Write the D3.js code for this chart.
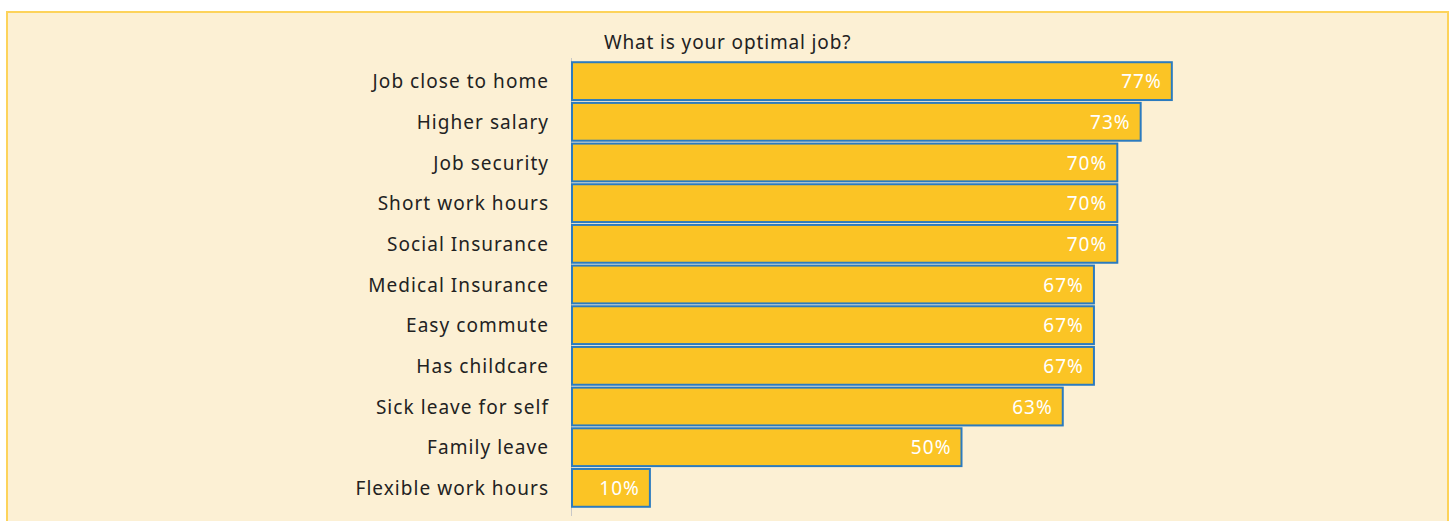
<!DOCTYPE html>
<html><head><meta charset="utf-8">
<script src="https://cdn.jsdelivr.net/npm/d3@7"></script>
<style>body{margin:0;background:#fff;} svg{display:block;}</style>
</head><body>
<svg id="c" width="1450" height="521"></svg>
<script>
const categories = ["Job close to home","Higher salary","Job security","Short work hours","Social Insurance","Medical Insurance","Easy commute","Has childcare","Sick leave for self","Family leave","Flexible work hours"];
const values = [77,73,70,70,70,67,67,67,63,50,10];
const title = "What is your optimal job?";

const svg = d3.select("#c");
const font = "'Noto Sans', sans-serif";
const ls = 1.05;
svg.append("rect").attr("x",7).attr("y",12).attr("width",1441).attr("height",530)
  .attr("fill","#fcf0d4").attr("stroke","#fdd35a").attr("stroke-width",2);

const x = d3.scaleLinear().domain([0,100]).range([572,1351]);
const y = d3.scaleBand().domain(categories).range([61,508]).paddingInner(0.07).paddingOuter(0.03);

svg.append("line").attr("x1",571.5).attr("x2",571.5).attr("y1",58).attr("y2",516).attr("stroke","#c8c8c8").attr("stroke-width",1);

svg.selectAll("rect.bar").data(values).join("rect").attr("class","bar")
  .attr("x",x(0)).attr("y",(d,i)=>y(categories[i]))
  .attr("width",d=>x(d)-x(0)).attr("height",y.bandwidth())
  .attr("fill","#fbc425").attr("stroke","#2b7bbf").attr("stroke-width",2);

svg.selectAll("text.val").data(values).join("text").attr("class","val")
  .attr("x",d=>x(d)-11+ls).attr("y",(d,i)=>y(categories[i])+y.bandwidth()/2)
  .attr("dy","0.38em").attr("text-anchor","end").attr("fill","#fff")
  .style("font-family",font).style("font-size","19px").style("letter-spacing",ls+"px").text(d=>d+"%");

svg.selectAll("text.cat").data(categories).join("text").attr("class","cat")
  .attr("x",548+ls).attr("y",d=>y(d)+y.bandwidth()/2).attr("dy","0.38em")
  .attr("text-anchor","end").attr("fill","#222")
  .style("font-family",font).style("font-size","19px").style("letter-spacing",ls+"px").text(d=>d);

svg.append("text").attr("x",604).attr("y",49).attr("fill","#222")
  .style("font-family",font).style("font-size","19px").style("letter-spacing","0.85px").text(title);
</script>
</body></html>
